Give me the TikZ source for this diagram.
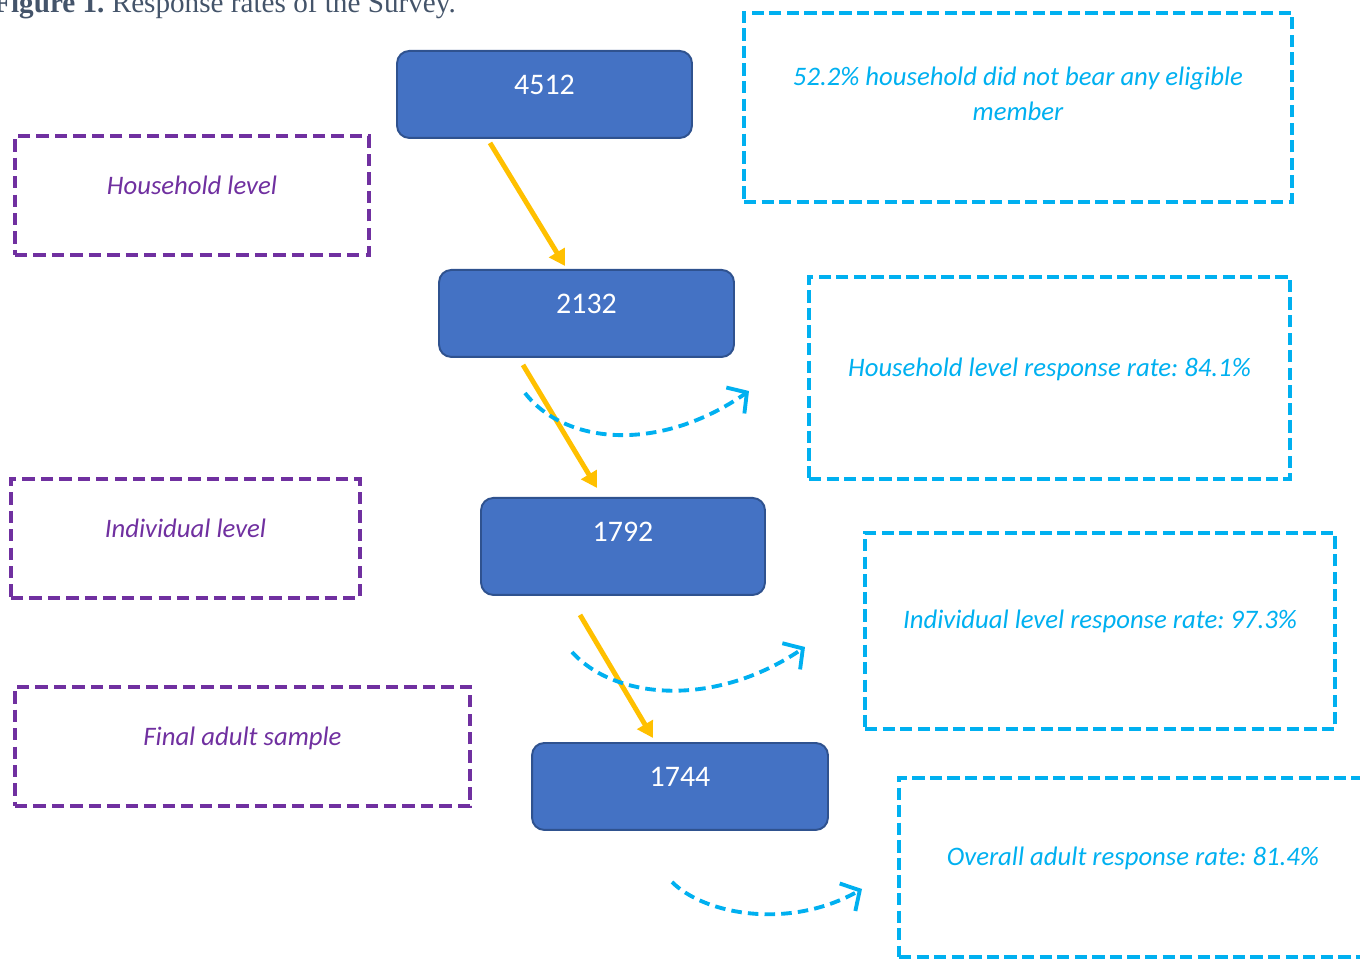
\documentclass[tikz,border=0pt]{standalone}
\usepackage{fontspec}
\setmainfont{Carlito}
\newfontfamily\captionfont{Liberation Serif}
\usetikzlibrary{calc,arrows.meta}
\definecolor{boxblue}{HTML}{4472C4}
\definecolor{boxedge}{HTML}{2F528F}
\definecolor{flowyellow}{HTML}{FFC000}
\definecolor{ratecyan}{HTML}{00B0F0}
\definecolor{levelpurple}{HTML}{7030A0}
\definecolor{captiongray}{HTML}{44546A}
\frenchspacing
\tikzset{
	countbox/.style={draw=boxedge, fill=boxblue, line width=1.1pt, rounded corners=7pt, anchor=north, inner sep=0pt, text=white, text height=0.88cm, font=\fontsize{17}{20}\selectfont},
	levelbox/.style={draw=levelpurple, line width=2.2pt, dash pattern=on 7pt off 3.5pt, anchor=north, inner sep=0pt, text=levelpurple, text height=1.18cm, text depth=1.2cm, font=\fontsize{15.2}{20}\selectfont\itshape},
	ratebox/.style={draw=ratecyan, line width=2.2pt, dash pattern=on 7pt off 3pt, anchor=north, inner sep=0pt, text=ratecyan, align=center, font=\fontsize{15.2}{19.9}\selectfont\itshape},
	flow/.style={draw=flowyellow, line width=2.8pt, -{Triangle[length=9pt,width=10pt]}},
	drop/.style={draw=ratecyan, line width=2.2pt, dash pattern=on 6pt off 3.5pt, -{Straight Barb[length=8pt,width=18pt]}}
}

\begin{document}
\begin{tikzpicture}[x=0.02cm, y=-0.02cm]
			%%%%% START %%%%%
			\useasboundingbox (0, 0) rectangle (1360, 959);
			
			\node[anchor=base east, text=captiongray, font=\captionfont\fontsize{16.6}{20}\selectfont] (caption) at (462, 13) {\textbf{Figure 1.} Response rates of the Survey.};
			
			\node[countbox, minimum width=5.9cm, text depth=0.86cm] (n4512) at (544.5, 50) {4512};
			\node[countbox, minimum width=5.9cm, text depth=0.86cm] (n2132) at (586.5, 269) {2132};
			\node[countbox, minimum width=5.68cm, text depth=1.06cm] (n1792) at (623, 497) {1792};
			\node[countbox, minimum width=5.92cm, text depth=0.86cm] (n1744) at (680, 742) {1744};
			
			\node[levelbox, minimum width=7.08cm] (household) at (192, 134) {Household level};
			\node[levelbox, minimum width=6.98cm] (individual) at (185.5, 477) {Individual level};
			\node[levelbox, minimum width=9.1cm] (finalsample) at (242.5, 685) {Final adult sample};
			
			\node[ratebox, minimum width=10.96cm, text height=2.16cm, text depth=1.62cm] (noeligible) at (1018, 11) {52.2\% household did not bear any eligible\\member};
			\node[ratebox, minimum width=9.62cm, text height=2.0cm, text depth=2.04cm] (hhrate) at (1049.5, 275) {Household level response rate: 84.1\%};
			\node[ratebox, minimum width=9.4cm, text height=1.92cm, text depth=2.0cm] (indrate) at (1100, 531) {Individual level response rate: 97.3\%};
			\node[ratebox, minimum width=9.36cm, text height=1.76cm, text depth=1.82cm] (overall) at (1133, 776) {Overall adult response rate: 81.4\%};
			
			\draw[flow] ($(n4512.south)+(-54.5, 4)$) -- ($(n2132.north)+(-21.5, -3)$);
			\draw[flow] ($(n2132.south)+(-63.5, 7)$) -- ($(n1792.north)+(-26, -9)$);
			\draw[flow] ($(n1792.south)+(-43, 19)$) -- ($(n1744.north)+(-27, -4)$);
			
			\coordinate (hhfrom) at (525, 393);
			\coordinate (hhto) at (749, 391);
			\draw[drop] (hhfrom) .. controls (565, 445) and (660, 453) .. (hhto);
			
			\coordinate (indfrom) at (572, 652);
			\coordinate (indto) at (805, 647);
			\draw[drop] (indfrom) .. controls (615, 700) and (715, 708) .. (indto);
			
			\coordinate (allfrom) at (672, 882);
			\coordinate (allto) at (862, 889);
			\draw[drop] (allfrom) .. controls (705, 915) and (790, 930) .. (allto);
			
			%%%%% END %%%%%
		\end{tikzpicture}
\end{document}
